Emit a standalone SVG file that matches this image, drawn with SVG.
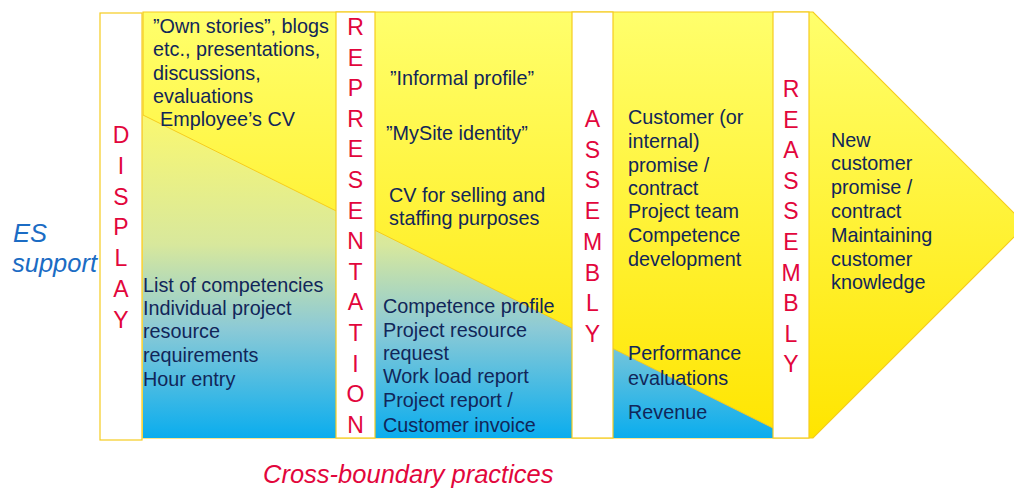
<svg xmlns="http://www.w3.org/2000/svg" width="1014" height="488" viewBox="0 0 1014 488">
<defs>
<linearGradient id="gY" x1="0" y1="12" x2="0" y2="438" gradientUnits="userSpaceOnUse">
<stop offset="0" stop-color="#FFFF6C"/>
<stop offset="1" stop-color="#FFE500"/>
</linearGradient>
<linearGradient id="gB" x1="0" y1="115" x2="0" y2="438" gradientUnits="userSpaceOnUse">
<stop offset="0" stop-color="#FAF870"/>
<stop offset="0.4" stop-color="#D8E89C"/>
<stop offset="0.66" stop-color="#8CCAD6"/>
<stop offset="1" stop-color="#0AADEE"/>
</linearGradient>
<style>
.bar{fill:#FFFFFF;stroke:#F5CC1E;stroke-width:1.2}
.vl{font-family:"Liberation Sans",Arial,sans-serif;font-size:23px;fill:#E2063C;text-anchor:middle}
.t{font-family:"Liberation Sans",Arial,sans-serif;font-size:19.8px;fill:#112659}
.it{font-family:"Liberation Sans",Arial,sans-serif;font-style:italic}
</style>
</defs>
<rect width="1014" height="488" fill="#FFFFFF"/>
<g id="arrow">
<path d="M143,12 H813 L1026,225 L813,438 H143 Z" fill="url(#gY)" stroke="#F5CC1E" stroke-width="1.2"/>
<path d="M143,115 L773,428 V438 H143 Z" fill="url(#gB)"/>
<line x1="143" y1="115" x2="773" y2="428" stroke="#F5CC1E" stroke-width="1"/>
</g>
<g id="display">
<rect class="bar" x="100" y="13" width="42" height="427"/>
<text class="vl"><tspan x="121" y="143">D</tspan><tspan x="121" dy="30.8">I</tspan><tspan x="121" dy="30.8">S</tspan><tspan x="121" dy="30.8">P</tspan><tspan x="121" dy="30.8">L</tspan><tspan x="121" dy="30.8">A</tspan><tspan x="121" dy="30.8">Y</tspan></text>
</g>
<g id="representation">
<rect class="bar" x="336" y="12" width="39" height="426"/>
<text class="vl"><tspan x="355.5" y="35">R</tspan><tspan x="355.5" dy="30.6">E</tspan><tspan x="355.5" dy="30.6">P</tspan><tspan x="355.5" dy="30.6">R</tspan><tspan x="355.5" dy="30.6">E</tspan><tspan x="355.5" dy="30.6">S</tspan><tspan x="355.5" dy="30.6">E</tspan><tspan x="355.5" dy="30.6">N</tspan><tspan x="355.5" dy="30.6">T</tspan><tspan x="355.5" dy="30.6">A</tspan><tspan x="355.5" dy="30.6">T</tspan><tspan x="355.5" dy="30.6">I</tspan><tspan x="355.5" dy="30.6">O</tspan><tspan x="355.5" dy="30.6">N</tspan></text>
</g>
<g id="assembly">
<rect class="bar" x="572" y="12" width="41" height="426"/>
<text class="vl"><tspan x="592.5" y="127">A</tspan><tspan x="592.5" dy="30.7">S</tspan><tspan x="592.5" dy="30.7">S</tspan><tspan x="592.5" dy="30.7">E</tspan><tspan x="592.5" dy="30.7">M</tspan><tspan x="592.5" dy="30.7">B</tspan><tspan x="592.5" dy="30.7">L</tspan><tspan x="592.5" dy="30.7">Y</tspan></text>
</g>
<g id="reassembly">
<rect class="bar" x="773" y="12" width="36" height="426"/>
<text class="vl"><tspan x="791" y="97">R</tspan><tspan x="791" dy="30.6">E</tspan><tspan x="791" dy="30.6">A</tspan><tspan x="791" dy="30.6">S</tspan><tspan x="791" dy="30.6">S</tspan><tspan x="791" dy="30.6">E</tspan><tspan x="791" dy="30.6">M</tspan><tspan x="791" dy="30.6">B</tspan><tspan x="791" dy="30.6">L</tspan><tspan x="791" dy="30.6">Y</tspan></text>
</g>
<g id="display-practices">
<text class="t"><tspan x="153" y="33">”Own stories”, blogs</tspan><tspan x="153" y="56">etc., presentations,</tspan><tspan x="153" y="80">discussions,</tspan><tspan x="153" y="103">evaluations</tspan><tspan x="160" y="126">Employee’s CV</tspan></text>
</g>
<g id="display-support">
<text class="t"><tspan x="143" y="292">List of competencies</tspan><tspan x="143" y="315">Individual project</tspan><tspan x="143" y="338">resource</tspan><tspan x="143" y="362">requirements</tspan><tspan x="143" y="386">Hour entry</tspan></text>
</g>
<g id="representation-practices">
<text class="t"><tspan x="390" y="85">”Informal profile”</tspan><tspan x="386" y="140">”MySite identity”</tspan><tspan x="389" y="202">CV for selling and</tspan><tspan x="389" y="225">staffing purposes</tspan></text>
</g>
<g id="representation-support">
<text class="t"><tspan x="383" y="313">Competence profile</tspan><tspan x="383" y="337">Project resource</tspan><tspan x="383" y="360">request</tspan><tspan x="383" y="383">Work load report</tspan><tspan x="383" y="407">Project report /</tspan><tspan x="383" y="432">Customer invoice</tspan></text>
</g>
<g id="assembly-practices">
<text class="t"><tspan x="628" y="124">Customer (or</tspan><tspan x="628" y="148">internal)</tspan><tspan x="628" y="172">promise /</tspan><tspan x="628" y="195">contract</tspan><tspan x="628" y="218">Project team</tspan><tspan x="628" y="242">Competence</tspan><tspan x="628" y="266">development</tspan></text>
</g>
<g id="assembly-support">
<text class="t"><tspan x="628" y="360">Performance</tspan><tspan x="628" y="385">evaluations</tspan><tspan x="628" y="419">Revenue</tspan></text>
</g>
<g id="reassembly-practices">
<text class="t"><tspan x="831" y="147">New</tspan><tspan x="831" y="170">customer</tspan><tspan x="831" y="194">promise /</tspan><tspan x="831" y="218">contract</tspan><tspan x="831" y="242">Maintaining</tspan><tspan x="831" y="266">customer</tspan><tspan x="831" y="289">knowledge</tspan></text>
</g>
<g id="es-support">
<text class="it" font-size="25.5" fill="#1B6CC4"><tspan x="13" y="242">ES</tspan><tspan x="12" y="272">support</tspan></text>
</g>
<g id="cross-boundary">
<text class="it" x="263" y="483" font-size="25.5" fill="#E2063C">Cross-boundary practices</text>
</g>
</svg>
